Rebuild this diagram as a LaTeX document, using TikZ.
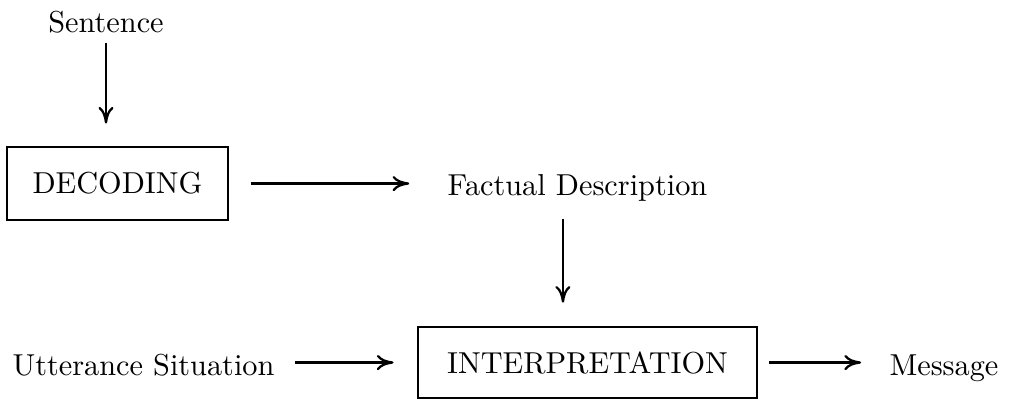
\documentclass[tikz,border=0pt]{standalone}
\usetikzlibrary{arrows.meta}
\begin{document}
\begin{tikzpicture}[x=0.33pt,y=-0.33pt,
  label text/.style={inner sep=0pt,anchor=base},
  stage/.style={draw,line width=0.9pt,inner sep=0pt},
  flow/.style={line width=0.75pt,-{Computer Modern Rightarrow[length=5.5pt,width=5pt]}}]
  \path[use as bounding box] (0,0) rectangle (1009,402);

  % texts and boxes
  \node[label text] (sent) at (106,32) {Sentence};
  \node[stage,minimum width=72.9pt,minimum height=24.1pt] (dec) at (117.5,183.5) {DECODING};
  \node[label text] (fact) at (577.5,195) {Factual Description};
  \node[label text] (utt) at (143.5,375) {Utterance Situation};
  \node[stage,minimum width=111.9pt,minimum height=23.4pt] (interp) at (587.5,362.5) {INTERPRETATION};
  \node[label text] (msg) at (944,375) {Message};

  % connectors
  \draw[flow,shorten <=3.3pt,shorten >=7.3pt] (sent.south) -- (sent.south |- dec.north);
  \draw[flow,shorten <=7.3pt,shorten >=12.5pt] (dec.east) -- (dec.east -| fact.west);
  \draw[flow,shorten <=5.9pt,shorten >=7.6pt] ([xshift=-4.8pt]fact.south) -- ([xshift=-4.8pt]fact.south |- interp.north);
  \draw[flow,shorten <=6.6pt,shorten >=7.6pt] (interp.west -| utt.east) -- (interp.west);
  \draw[flow,shorten <=3.6pt,shorten >=9.2pt] (interp.east) -- (interp.east -| msg.west);
\end{tikzpicture}
\end{document}
